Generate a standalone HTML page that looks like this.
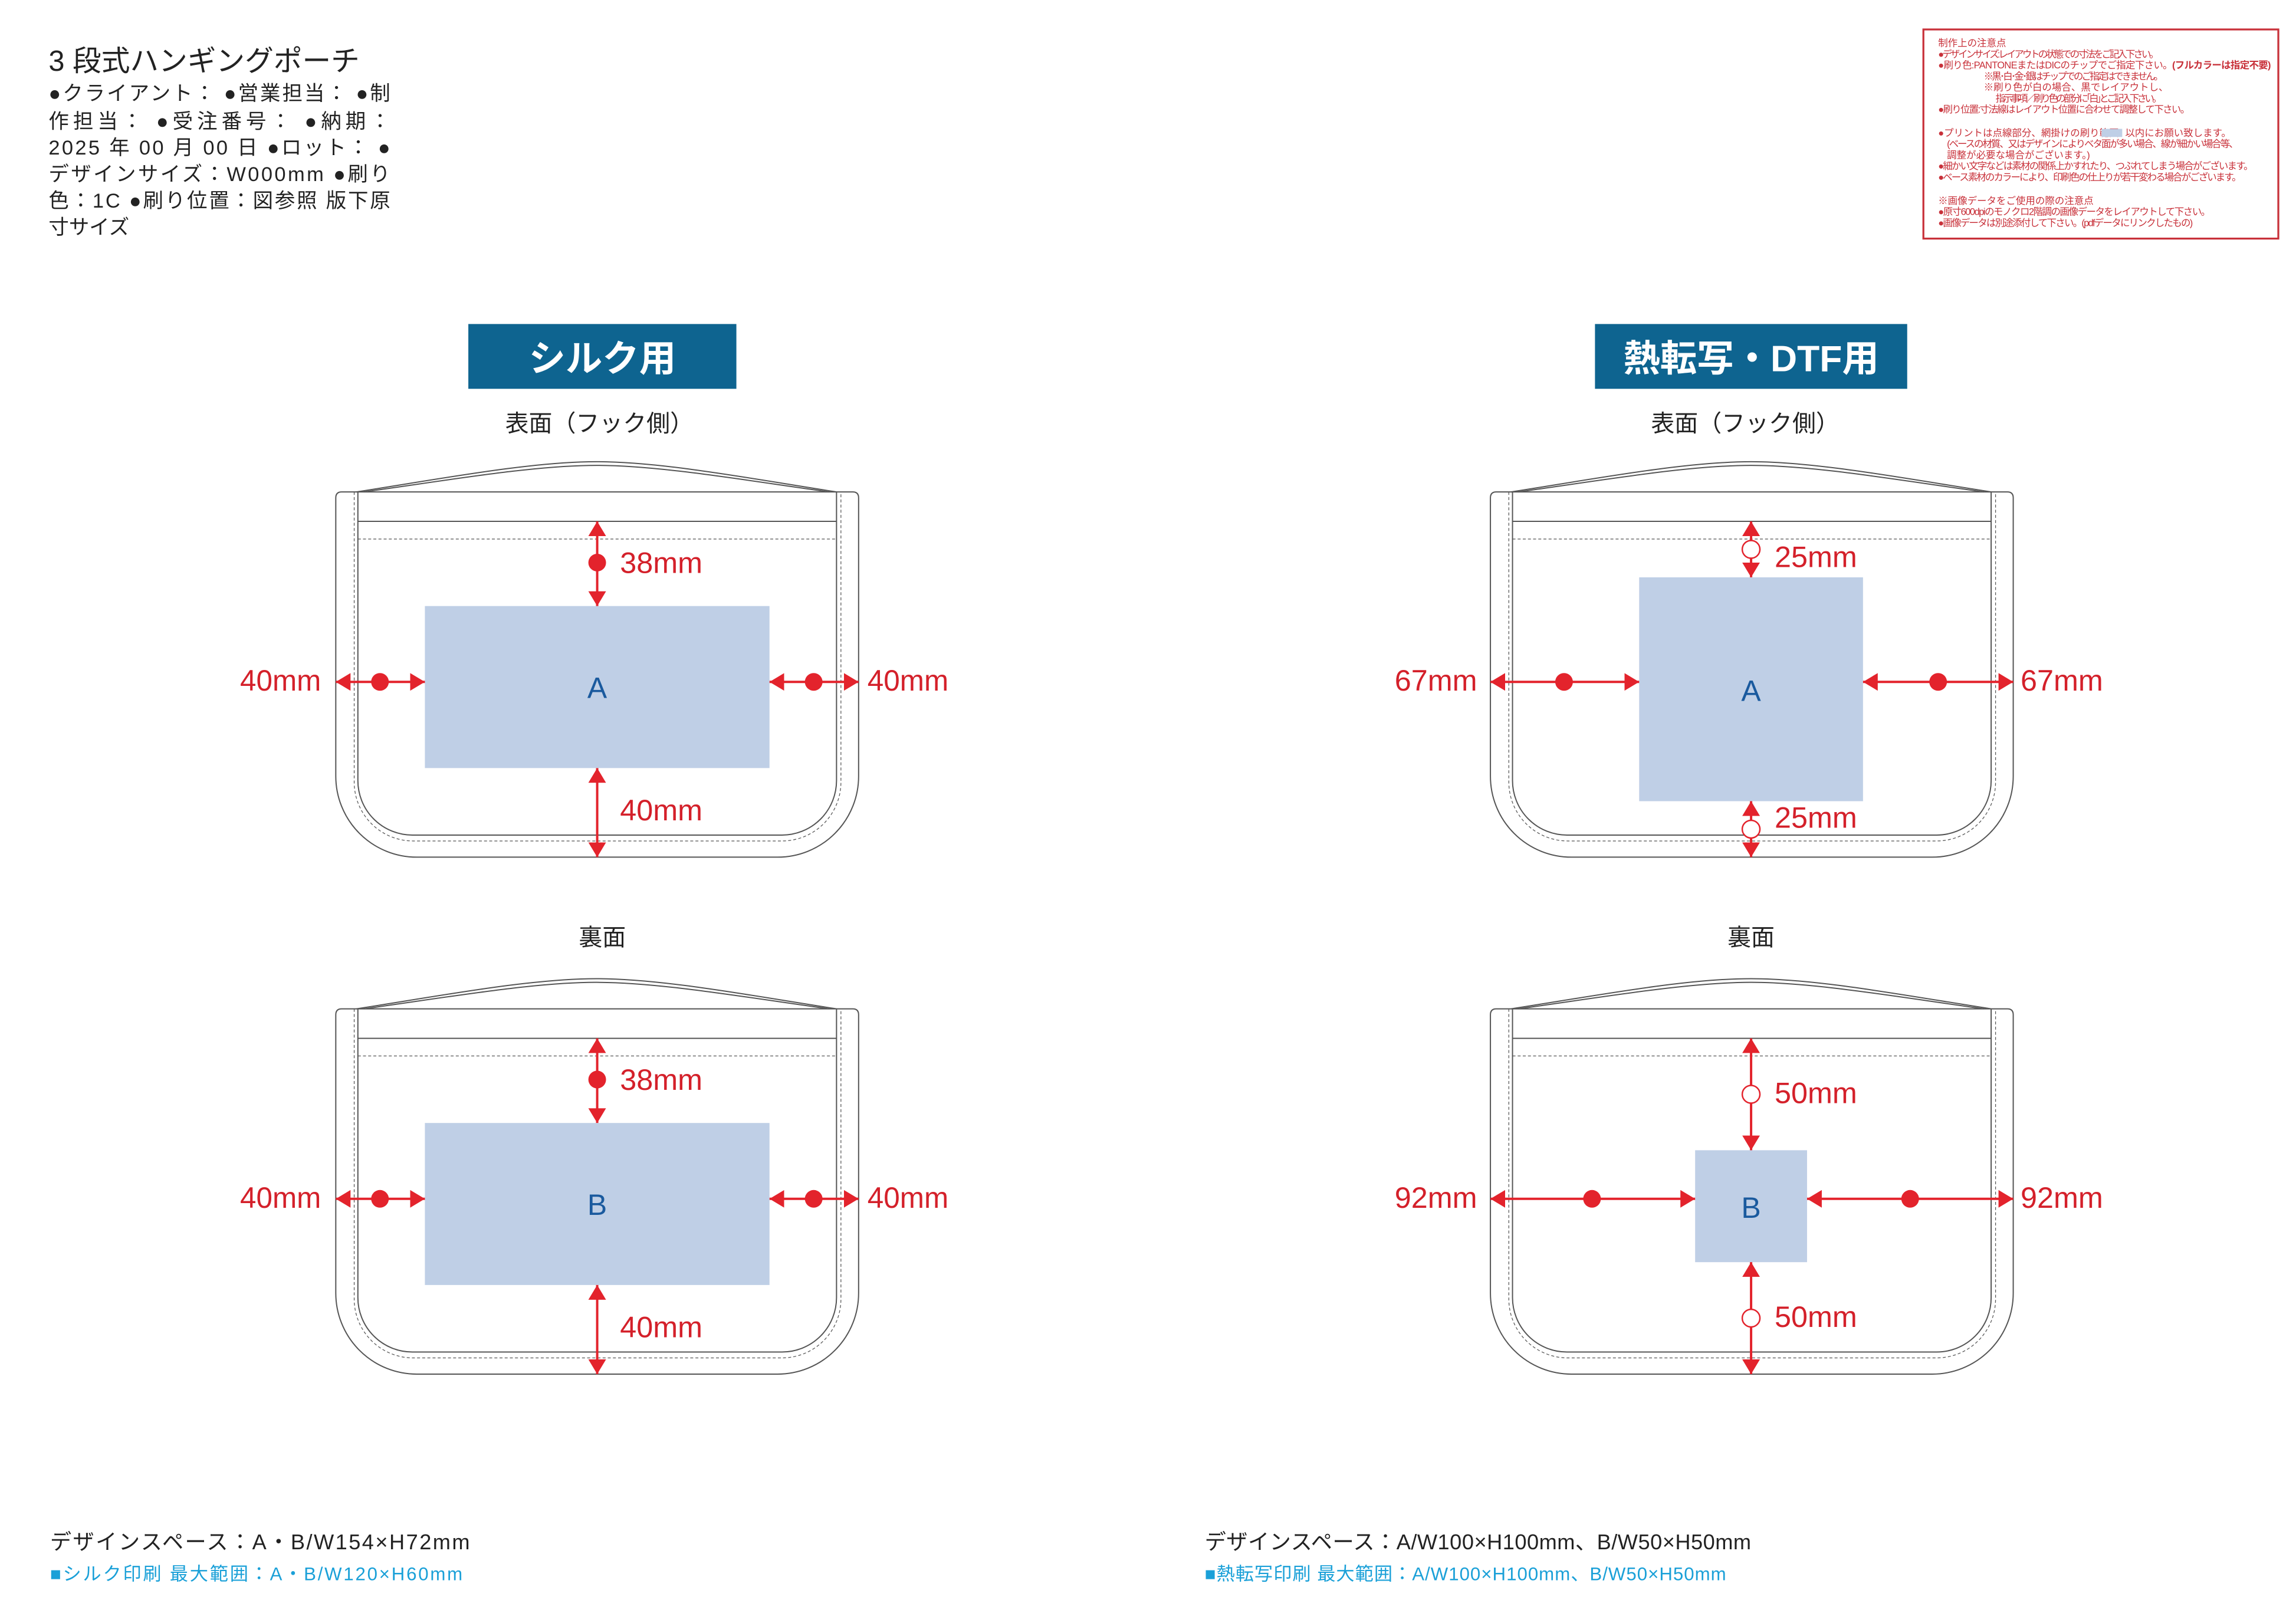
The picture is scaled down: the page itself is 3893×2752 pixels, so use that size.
<!DOCTYPE html>
<html><head><meta charset="utf-8"><style>
html,body{margin:0;padding:0;background:#fff;}
svg{display:block;}
text{font-family:"Liberation Sans","Noto Sans CJK JP",sans-serif;}
</style></head><body>
<svg width="3893" height="2752" viewBox="0 0 1559 1102" preserveAspectRatio="none" xmlns="http://www.w3.org/2000/svg">
<defs>
<marker id="ah" viewBox="0 0 10 12" refX="10" refY="6" markerWidth="10" markerHeight="12" markerUnits="userSpaceOnUse" orient="auto-start-reverse"><path d="M0,0 L10,6 L0,12 z" fill="#e3232c"/></marker>
<g id="pouch" fill="none" stroke="#555" stroke-width="0.8">
<path d="M232,334 H579 Q583,334 583,338 V527 A55,55 0 0 1 528,582 H283 A55,55 0 0 1 228,527 V338 Q228,334 232,334 Z"/>
<path d="M242,334 C300,325 360,313.5 405,313.5 C450,313.5 510,325 568,334"/>
<path d="M247,334 C305,326 362,316 405,316 C448,316 505,326 563,334"/>
<path d="M243,334 V530 A37,37 0 0 0 280,567 H531 A37,37 0 0 0 568,530 V334"/>
<path d="M240.5,334 V531 A40,40 0 0 0 280.5,571 H531 A40,40 0 0 0 571,531 V334" stroke-dasharray="2,1.5" stroke-width="0.5"/>
<line x1="243" y1="354" x2="568" y2="354"/>
<line x1="243" y1="366" x2="568" y2="366" stroke-dasharray="2,1.5" stroke-width="0.5"/>
</g>
</defs>

<text x="33" y="48" font-size="19.5" fill="#222">3 段式ハンギングポーチ</text>
<g font-size="13.8" fill="#222">
<text x="33" y="68" textLength="232" lengthAdjust="spacing">●クライアント： ●営業担当： ●制</text>
<text x="33" y="87" textLength="232" lengthAdjust="spacing">作担当： ●受注番号： ●納期：</text>
<text x="33" y="105" textLength="232" lengthAdjust="spacing">2025 年 00 月 00 日 ●ロット： ●</text>
<text x="33" y="123" textLength="232" lengthAdjust="spacing">デザインサイズ：W000mm ●刷り</text>
<text x="33" y="141" textLength="232" lengthAdjust="spacing">色：1C ●刷り位置：図参照 版下原</text>
<text x="33" y="159">寸サイズ</text>
</g>

<rect x="1306" y="20" width="241" height="142" fill="none" stroke="#c8313a" stroke-width="1.3"/>
<g font-size="6.6" fill="#c8313a">
<text x="1316" y="31.5">制作上の注意点</text>
<text x="1316" y="39" textLength="150">●デザインサイズ:レイアウトの状態での寸法をご記入下さい。</text>
<text x="1316" y="46.5" textLength="226">●刷り色:PANTONEまたはDICのチップでご指定下さい。<tspan font-weight="bold">(フルカラーは指定不要)</tspan></text>
<text x="1347" y="54" textLength="122">※黒･白･金･銀はチップでのご指定はできません。</text>
<text x="1347" y="61.5">※刷り色が白の場合、黒でレイアウトし、</text>
<text x="1355" y="69" textLength="113">指示事項／刷り色の部分に｢白｣とご記入下さい。</text>
<text x="1316" y="76.5" textLength="171">●刷り位置:寸法線はレイアウト位置に合わせて調整して下さい。</text>
<text x="1316" y="92.5">●プリントは点線部分、網掛けの刷り範囲</text>
<rect x="1427" y="87.5" width="14" height="5.5" fill="#bfcfe6"/>
<text x="1443" y="92.5">以内にお願い致します。</text>
<text x="1322" y="100" textLength="198">(ベースの材質、又はデザインによりベタ面が多い場合、線が細かい場合等、</text>
<text x="1322" y="107.5">調整が必要な場合がございます。)</text>
<text x="1316" y="115" textLength="214">●細かい文字などは素材の関係上かすれたり、つぶれてしまう場合がございます。</text>
<text x="1316" y="122.5" textLength="206">●ベース素材のカラーにより、印刷色の仕上りが若干変わる場合がございます。</text>
<text x="1316" y="138.5">※画像データをご使用の際の注意点</text>
<text x="1316" y="146" textLength="185">●原寸600dpiのモノクロ2階調の画像データをレイアウトして下さい。</text>
<text x="1316" y="153.5" textLength="173">●画像データは別途添付して下さい。(pdfデータにリンクしたもの)</text>
</g>

<rect x="318" y="220" width="182" height="44" fill="#0e6490"/>
<text x="409" y="252" font-size="25" font-weight="bold" fill="#fff" text-anchor="middle">シルク用</text>
<rect x="1083" y="220" width="212" height="44" fill="#0e6490"/>
<text x="1189" y="252" font-size="25" font-weight="bold" fill="#fff" text-anchor="middle">熱転写・DTF用</text>

<g font-size="16" fill="#222" text-anchor="middle">
<text x="407" y="293">表面（フック側）</text>
<text x="1185" y="293">表面（フック側）</text>
<text x="409" y="642">裏面</text>
<text x="1189" y="642">裏面</text>
</g>

<use href="#pouch"/>
<use href="#pouch" transform="translate(0,351)"/>
<use href="#pouch" transform="translate(784,0)"/>
<use href="#pouch" transform="translate(784,351)"/>

<g fill="#bfcfe6">
<rect x="288.5" y="411.5" width="234" height="110"/>
<rect x="288.5" y="762.5" width="234" height="110"/>
<rect x="1113" y="392" width="152" height="152"/>
<rect x="1151" y="781" width="76" height="76"/>
</g>
<g font-size="20" fill="#1a5a9e" text-anchor="middle">
<text x="405.5" y="474">A</text>
<text x="405.5" y="825">B</text>
<text x="1189" y="476">A</text>
<text x="1189" y="827">B</text>
</g>

<g stroke="#e3232c" stroke-width="1.6" marker-start="url(#ah)" marker-end="url(#ah)">
<line x1="405.5" y1="354" x2="405.5" y2="411.5"/>
<line x1="405.5" y1="521.5" x2="405.5" y2="582"/>
<line x1="228" y1="463" x2="288.5" y2="463"/>
<line x1="522.5" y1="463" x2="583" y2="463"/>
<line x1="405.5" y1="705" x2="405.5" y2="762.5"/>
<line x1="405.5" y1="872.5" x2="405.5" y2="933"/>
<line x1="228" y1="814" x2="288.5" y2="814"/>
<line x1="522.5" y1="814" x2="583" y2="814"/>
<line x1="1189" y1="354" x2="1189" y2="392"/>
<line x1="1189" y1="544" x2="1189" y2="582"/>
<line x1="1012" y1="463" x2="1113" y2="463"/>
<line x1="1265" y1="463" x2="1367" y2="463"/>
<line x1="1189" y1="705" x2="1189" y2="781"/>
<line x1="1189" y1="857" x2="1189" y2="933"/>
<line x1="1012" y1="814" x2="1151" y2="814"/>
<line x1="1227" y1="814" x2="1367" y2="814"/>
</g>
<g fill="#e3232c">
<circle cx="405.5" cy="382" r="6"/>
<circle cx="258" cy="463" r="6"/>
<circle cx="552.5" cy="463" r="6"/>
<circle cx="405.5" cy="733" r="6"/>
<circle cx="258" cy="814" r="6"/>
<circle cx="552.5" cy="814" r="6"/>
<circle cx="1062" cy="463" r="6"/>
<circle cx="1316" cy="463" r="6"/>
<circle cx="1081" cy="814" r="6"/>
<circle cx="1297" cy="814" r="6"/>
</g>
<g fill="#fff" stroke="#e3232c" stroke-width="1">
<circle cx="1189" cy="373" r="6"/>
<circle cx="1189" cy="563" r="6"/>
<circle cx="1189" cy="743" r="6"/>
<circle cx="1189" cy="895" r="6"/>
</g>

<g font-size="20" fill="#d4202a" lengthAdjust="spacingAndGlyphs">
<text x="421" y="389" textLength="56" lengthAdjust="spacingAndGlyphs">38mm</text>
<text x="421" y="557" textLength="56" lengthAdjust="spacingAndGlyphs">40mm</text>
<text x="163" y="469" textLength="55" lengthAdjust="spacingAndGlyphs">40mm</text>
<text x="589" y="469" textLength="55" lengthAdjust="spacingAndGlyphs">40mm</text>
<text x="421" y="740" textLength="56" lengthAdjust="spacingAndGlyphs">38mm</text>
<text x="421" y="908" textLength="56" lengthAdjust="spacingAndGlyphs">40mm</text>
<text x="163" y="820" textLength="55" lengthAdjust="spacingAndGlyphs">40mm</text>
<text x="589" y="820" textLength="55" lengthAdjust="spacingAndGlyphs">40mm</text>
<text x="1205" y="385" textLength="56" lengthAdjust="spacingAndGlyphs">25mm</text>
<text x="1205" y="562" textLength="56" lengthAdjust="spacingAndGlyphs">25mm</text>
<text x="947" y="469" textLength="56" lengthAdjust="spacingAndGlyphs">67mm</text>
<text x="1372" y="469" textLength="56" lengthAdjust="spacingAndGlyphs">67mm</text>
<text x="1205" y="749" textLength="56" lengthAdjust="spacingAndGlyphs">50mm</text>
<text x="1205" y="901" textLength="56" lengthAdjust="spacingAndGlyphs">50mm</text>
<text x="947" y="820" textLength="56" lengthAdjust="spacingAndGlyphs">92mm</text>
<text x="1372" y="820" textLength="56" lengthAdjust="spacingAndGlyphs">92mm</text>
</g>

<text x="34" y="1052" font-size="14.5" fill="#222" textLength="285">デザインスペース：A・B/W154×H72mm</text>
<text x="34" y="1073" font-size="12.5" fill="#1aa0d8" textLength="280">■シルク印刷 最大範囲：A・B/W120×H60mm</text>
<text x="818" y="1052" font-size="14.5" fill="#222" textLength="371">デザインスペース：A/W100×H100mm、B/W50×H50mm</text>
<text x="818" y="1073" font-size="12.5" fill="#1aa0d8" textLength="354">■熱転写印刷 最大範囲：A/W100×H100mm、B/W50×H50mm</text>
</svg>
</body></html>
